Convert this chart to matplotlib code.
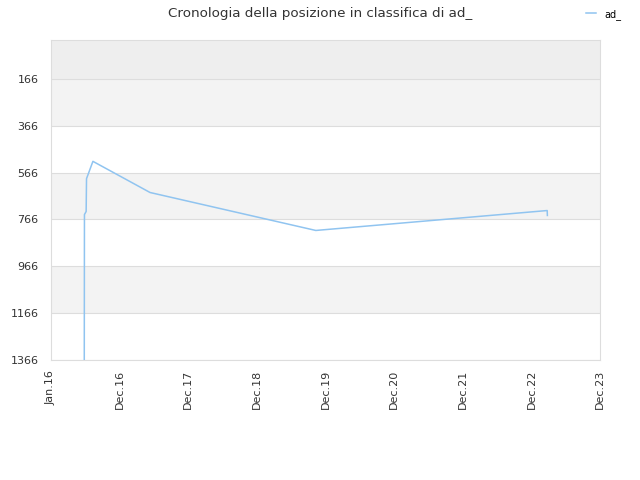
import datetime as dt
import matplotlib
matplotlib.use("Agg")
import matplotlib.pyplot as plt
import matplotlib.dates as mdates

# posizione in classifica nel tempo
dates = [dt.datetime(2016, 6, 26), dt.datetime(2016, 6, 27), dt.datetime(2016, 7, 6),
         dt.datetime(2016, 7, 8), dt.datetime(2016, 8, 11), dt.datetime(2017, 6, 11),
         dt.datetime(2019, 11, 10), dt.datetime(2023, 3, 25), dt.datetime(2023, 3, 26)]
ranks = [1380, 745, 732, 592, 518, 651, 813, 728, 749]

yticks = [166, 366, 566, 766, 966, 1166, 1366]
xtick_dates = [dt.datetime(2016, 1, 1)] + [dt.datetime(y, 12, 31) for y in range(2016, 2024)]
xtick_labels = ["Jan.16", "Dec.16", "Dec.17", "Dec.18", "Dec.19", "Dec.20", "Dec.21", "Dec.22", "Dec.23"]

fig = plt.figure(figsize=(6.4, 4.8), dpi=100)
ax = fig.add_axes([51 / 640, 1 - 360 / 480, 549 / 640, 320 / 480])

# fasce di sfondo
ax.axhspan(0, 166, color="#eeeeee", zorder=0, lw=0)
for lo in [166, 566, 966]:
    ax.axhspan(lo, lo + 200, color="#f3f3f3", zorder=0, lw=0)
for y in yticks:
    ax.axhline(y, color="#dddddd", lw=0.8, zorder=1)

ax.plot(dates, ranks, color="#90c4f0", lw=1.1, zorder=3, label="ad_")

ax.set_ylim(1366, 0)
ax.set_xlim(dt.datetime(2016, 1, 1), dt.datetime(2023, 12, 31))
ax.set_yticks(yticks)
ax.set_yticklabels([str(v) for v in yticks])
ax.set_xticks(xtick_dates)
ax.set_xticklabels(xtick_labels, rotation=90)
ax.tick_params(axis="both", length=0, labelsize=8, labelcolor="#333333")
ax.tick_params(axis="y", pad=9)
ax.tick_params(axis="x", pad=7)

for s in ax.spines.values():
    s.set_color("#dddddd")

fig.suptitle("Cronologia della posizione in classifica di ad_", y=0.985, fontsize=9.7, color="#333333")
fig.legend(loc="upper right", bbox_to_anchor=(0.985, 1.0), frameon=False, fontsize=7,
           handlelength=1.0, handletextpad=0.9)

fig.savefig("out.png", dpi=100)
